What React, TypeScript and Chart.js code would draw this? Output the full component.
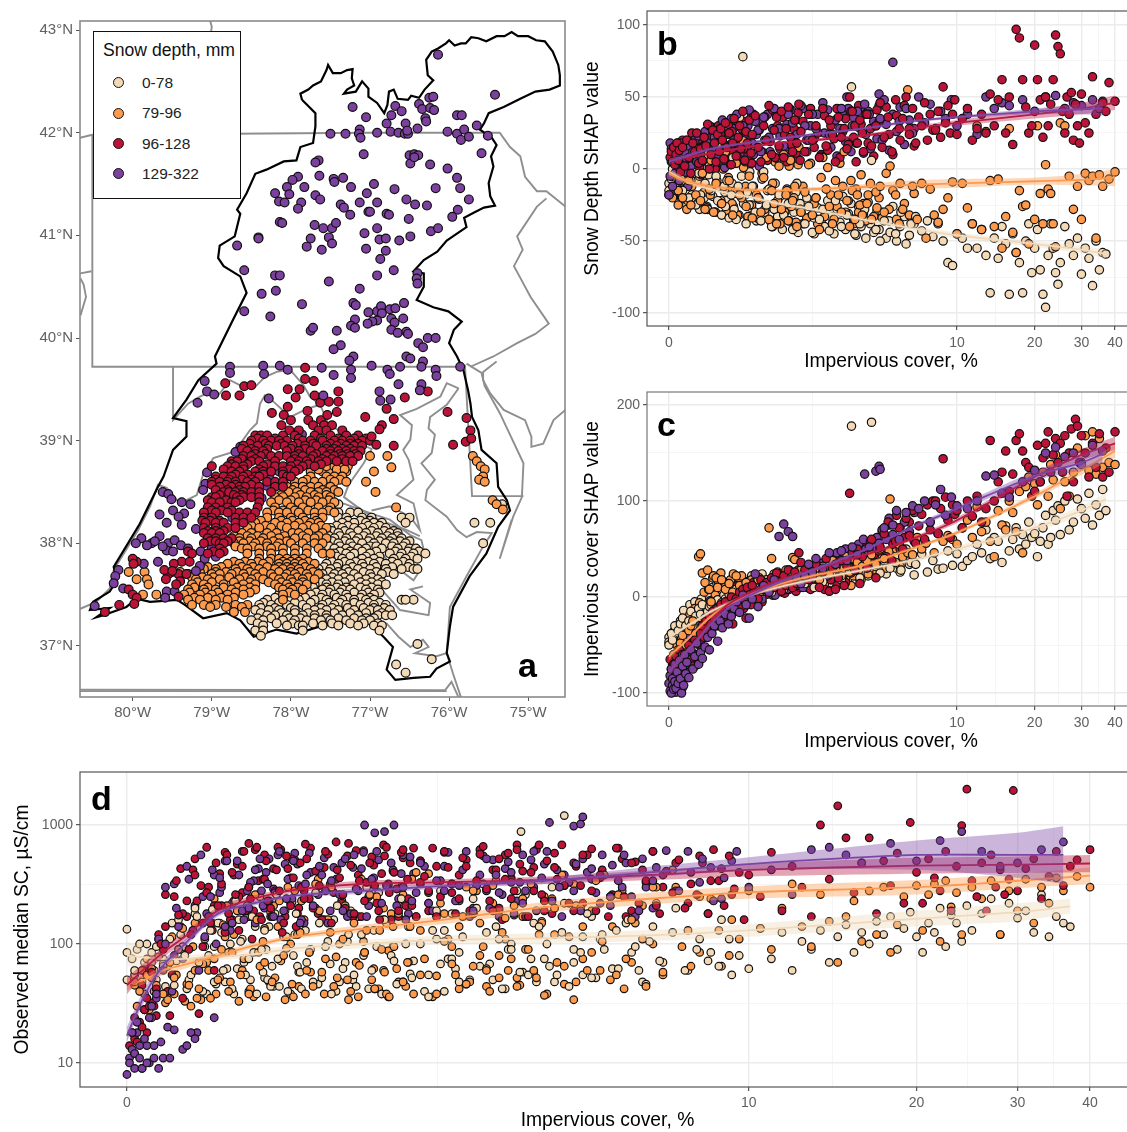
import React, { useEffect, useRef } from "react";
import { Chart, registerables } from "chart.js";
Chart.register(...registerables);

const FONT = '"Liberation Sans", Arial, sans-serif';
const classNames = ["0-78", "79-96", "96-128", "129-322"];
const fillColors = ["#F3D9B6", "#FE9A4C", "#BC1339", "#7C409F"];
const lineColors = ["#F0DABB", "#FD9A50", "#B81B44", "#7D46A5"];

// ---------- map boundaries (lon, lat pairs)
const watershed = [-77.86,42.32,-77.88,42.38,-77.78,42.42,-77.72,42.46,-77.62,42.5,-77.55,42.61,-77.53,42.66,-77.47,42.58,-77.37,42.58,-77.29,42.61,-77.22,42.62,-77.23,42.53,-77.2,42.46,-77.29,42.42,-77.33,42.38,-77.18,42.4,-77.1,42.5,-77.02,42.43,-77.02,42.35,-76.91,42.29,-76.82,42.19,-76.78,42.27,-76.76,42.4,-76.7,42.42,-76.65,42.33,-76.52,42.32,-76.48,42.36,-76.38,42.34,-76.31,42.42,-76.2,42.51,-76.27,42.56,-76.29,42.71,-76.22,42.79,-76.14,42.82,-76.04,42.87,-76,42.9,-75.93,42.85,-75.85,42.87,-75.79,42.87,-75.72,42.93,-75.63,42.92,-75.53,42.89,-75.4,42.94,-75.3,42.94,-75.21,42.98,-75.13,42.94,-75,42.94,-74.9,42.9,-74.79,42.89,-74.69,42.79,-74.62,42.66,-74.6,42.56,-74.6,42.46,-74.73,42.42,-74.91,42.4,-75.1,42.33,-75.31,42.25,-75.5,42.19,-75.56,42.09,-75.61,42.03,-75.46,41.95,-75.4,41.88,-75.47,41.77,-75.44,41.67,-75.5,41.51,-75.48,41.38,-75.42,41.29,-75.56,41.27,-75.69,41.22,-75.81,41.17,-75.78,41.08,-76.03,40.95,-76.15,40.84,-76.32,40.76,-76.45,40.65,-76.32,40.63,-76.32,40.5,-76.41,40.37,-76.2,40.3,-76.01,40.26,-75.84,40.16,-75.94,40.08,-76.0,39.95,-75.9,39.82,-75.82,39.69,-75.76,39.49,-75.73,39.36,-75.71,39.23,-75.63,39.1,-75.59,38.91,-75.4,38.78,-75.38,38.55,-75.27,38.42,-75.23,38.32,-75.38,38.16,-75.53,37.9,-75.74,37.68,-75.95,37.38,-75.99,37.19,-76.03,36.93,-75.99,36.85,-76.16,36.78,-76.24,36.7,-76.45,36.69,-76.68,36.67,-76.79,36.77,-76.71,36.99,-76.83,37.09,-77,37.22,-77.17,37.25,-77.42,37.22,-77.63,37.19,-77.93,37.12,-78.18,37.16,-78.47,37.09,-78.64,37.25,-78.81,37.32,-79.11,37.27,-79.34,37.4,-79.44,37.45,-79.78,37.43,-79.95,37.46,-80.08,37.38,-80.37,37.3,-80.46,37.28,-80.29,37.37,-80.54,37.35,-80.5,37.43,-80.29,37.53,-80.2,37.64,-80.24,37.77,-79.91,38.19,-79.68,38.55,-79.61,38.65,-79.49,38.91,-79.32,39.04,-79.32,39.19,-79.49,39.22,-79.32,39.4,-79.17,39.59,-78.94,39.75,-78.96,39.82,-78.73,40.18,-78.56,40.44,-78.64,40.6,-78.85,40.7,-78.92,40.78,-78.9,40.9,-78.71,40.99,-78.64,41.21,-78.68,41.25,-78.56,41.41,-78.45,41.6,-78.31,41.64,-78.09,41.72,-77.93,41.73,-77.88,41.86,-77.72,41.9,-77.69,42.06,-77.69,42.19,-77.86,42.32];
const grayLines = [
  [-80.67,41.95,-80.51,41.98,-77,42,-75.36,42,-75.23,41.86,-75.1,41.77,-75.04,41.57,-74.89,41.43,-74.77,41.43,-74.53,41.28],
  [-80.51,41.98,-80.51,39.72,-75.8,39.72],
  [-74.77,41.36,-74.89,41.28,-75.14,40.99,-75.07,40.86,-75.18,40.7,-75.11,40.6,-74.97,40.4,-74.74,40.14,-74.91,40.04,-75.14,39.95,-75.44,39.82,-75.73,39.72],
  [-79.02,43.09,-79,43.03,-79.01,42.98],
  [-80.66,40.63,-80.52,40.65],
  [-80.66,40.58,-80.62,40.52,-80.59,40.4,-80.66,40.22],
  [-79.49,39.72,-79.49,39.2,-79.3,39.36,-79.15,39.43,-79,39.48,-78.92,39.44,-78.77,39.59,-78.64,39.54,-78.47,39.51,-78.33,39.62,-78.18,39.67,-78.01,39.69,-77.84,39.54,-77.76,39.43,-77.63,39.35,-77.53,39.17,-77.29,39.04,-77.1,38.96,-76.98,38.92,-77.08,38.78,-77.27,38.57,-77.33,38.45,-77.17,38.36,-76.98,38.26,-76.75,38.19,-76.54,38.13,-76.37,38.07],
  [-80.67,37.36,-80.46,37.43,-80.29,37.56,-80.24,37.74,-79.93,38.13,-79.78,38.36,-79.68,38.57,-79.57,38.54,-79.44,38.42,-79.32,38.42,-79.19,38.47,-79.11,38.67,-78.98,38.83,-78.77,38.88,-78.64,38.97,-78.52,39.1,-78.43,39.17,-78.39,39.36,-78.33,39.44,-78.22,39.38,-78.01,39.23,-77.8,39.31,-77.63,39.35],
  [-75.88,39.51,-76.03,39.56,-76.11,39.43,-76.41,39.31,-76.62,39.25,-76.47,39.15,-76.49,39.01,-76.58,38.91,-76.51,38.81,-76.45,38.62,-76.66,38.47,-76.45,38.39,-76.37,38.13,-76.49,38.26,-76.75,38.36,-76.98,38.32],
  [-75.88,39.51,-76.03,39.35,-76.24,39.23,-76.26,39.12,-76.18,39.06,-76.22,38.88,-76.35,38.78,-76.18,38.62,-76.28,38.52,-76.3,38.42,-76.03,38.26,-75.9,38.13,-75.78,38.06,-75.65,38.11,-75.46,38.1,-75.57,37.97,-75.78,37.68,-75.99,37.38,-76.03,36.93],
  [-75.78,39.75,-75.59,39.66,-75.55,39.53,-75.36,39.27,-75.06,38.78,-75.08,38.45,-75.19,38.26,-75.31,37.97,-75.36,37.85,-75.21,38.23],
  [-74.53,39.3,-74.68,39.2,-74.81,38.97,-74.96,38.94,-74.96,39.04,-75.04,39.2,-75.31,39.3,-75.48,39.46,-75.57,39.59,-75.57,39.67,-75.4,39.77],
  [-75.8,39.74,-75.71,38.46,-75.06,38.46],
  [-80.67,36.56,-76.03,36.56],
  [-80.67,36.575,-76.05,36.57],
  [-77.34,38.39,-76.98,38.29,-76.75,38.23,-76.49,38.08,-76.35,38.03,-76.3,37.87],
  [-76.94,38.02,-76.79,37.84,-76.45,37.64,-76.39,37.71],
  [-76.83,37.53,-76.62,37.35,-76.26,37.3,-76.24,37.42,-76.49,37.55,-76.33,37.58],
  [-77,37.22,-76.79,37.22,-76.64,37.09,-76.49,36.99,-76.33,37.06,-76.26,36.99,-76.43,36.93,-76.16,36.9,-76.03,36.93],
  [-76.03,36.93,-75.95,36.73,-75.85,36.5],
  [-76.05,36.57,-75.97,36.65,-75.88,36.5],
];

// ---------- map stations
const mapPurple = [-76.14,42.76,-75.42,42.37,-77.22,42.25,-77.05,42.15,-76.68,42.26,-76.6,42.21,-76.73,42.17,-76.79,42.09,-76.55,42.09,-76.38,42.28,-76.34,42.23,-76.25,42.34,-76.2,42.35,-76.24,42.24,-76.19,42.22,-76.3,42.14,-76.29,42.11,-76.4,42.04,-75.9,42.17,-75.84,42.17,-75.65,42.07,-77.5,41.99,-77.31,41.99,-77.13,42.03,-77.14,41.99,-77.12,41.95,-76.91,42,-76.74,42.01,-76.64,42,-76.56,41.99,-76.52,41.99,-76.53,42.02,-76.02,42.01,-75.9,41.99,-75.81,42.03,-75.85,41.93,-75.75,41.96,-75.51,41.97,-75.59,41.8,-77.08,41.79,-76.5,41.78,-76.44,41.79,-76.39,41.78,-76.49,41.7,-76.44,41.76,-76.24,41.69,-76.02,41.65,-75.9,41.56,-75.86,41.46,-75.75,41.35,-77.65,41.73,-77.69,41.71,-77.64,41.58,-77.91,41.57,-77.98,41.54,-78.05,41.47,-78.2,41.41,-78.02,41.4,-78.15,41.33,-78.08,41.32,-77.83,41.47,-77.87,41.32,-77.91,41.26,-77.69,41.39,-77.63,41.35,-77.46,41.55,-77.45,41.52,-77.34,41.56,-77.24,41.47,-76.95,41.5,-76.69,41.45,-77.04,41.41,-77.37,41.3,-77.33,41.27,-77.25,41.2,-77.13,41.32,-76.91,41.32,-77.02,41.23,-77,41.23,-76.79,41.21,-76.76,41.2,-76.54,41.35,-76.43,41.3,-76.28,41.29,-76.17,41.46,-75.89,41.25,-75.96,41.18,-76.51,41.16,-78.14,41.13,-78.11,41.12,-77.7,41.1,-77.59,41.07,-77.48,41.07,-77.43,41.12,-76.91,41.07,-77.07,41.02,-76.88,40.96,-76.8,40.97,-76.63,40.95,-76.49,40.99,-76.23,41.04,-76.14,41.07,-78.41,40.98,-78.41,40.97,-77.52,40.98,-77.75,40.97,-77.8,40.89,-77.48,40.92,-77.61,40.86,-78.68,40.9,-77.05,40.87,-76.8,40.85,-76.87,40.77,-78.59,40.66,-76.7,40.66,-76.91,40.61,-78.2,40.61,-78.14,40.61,-76.4,40.63,-76.41,40.58,-76.4,40.53,-77.52,40.55,-77.13,40.48,-78.19,40.46,-78.37,40.43,-77.86,40.33,-77.21,40.34,-77.18,40.32,-78.59,40.26,-78.26,40.21,-77.02,40.25,-76.91,40.26,-76.86,40.31,-76.75,40.28,-76.68,40.29,-76.57,40.34,-76.85,40.24,-76.91,40.17,-76.97,40.16,-77.03,40.14,-77.19,40.18,-77.24,40.12,-77.19,40.1,-76.73,40.19,-76.69,40.15,-76.58,40.19,-76.73,40.08,-76.65,40.05,-76.54,40.06,-76.52,40.04,-77.75,40.07,-77.72,40.1,-77.42,40.07,-76.39,39.95,-76.33,39.91,-76.27,40,-76.17,40,-77.37,39.93,-77.46,39.89,-77.21,39.82,-77.26,39.78,-76.54,39.82,-76.49,39.8,-76.33,39.77,-78.77,39.72,-78.77,39.66,-79.09,39.58,-79.06,39.48,-78.97,39.45,-79.18,39.37,-78.35,39.73,-78.34,39.65,-78.14,39.73,-78.04,39.69,-77.61,39.71,-77.46,39.64,-77.24,39.69,-77.24,39.61,-76.98,39.73,-76.78,39.69,-76.75,39.65,-76.62,39.72,-76.35,39.72,-76.17,39.69,-76.16,39.63,-75.86,39.72,-76.64,39.55,-76.35,39.55,-76.37,39.49,-76.88,39.48,-76.87,39.39,-76.74,39.4,-77.59,39.44,-78.28,39.41];
const mapPurpleLow = [-77.86,39.06,-78.64,38.94,-78.7,38.89,-78.26,38.69,-78.15,38.7,-79.06,38.69,-79.08,38.58,-79.11,38.52,-78.26,38.62,-78.31,38.56,-78.37,38.44,-79.62,38.5,-79.55,38.48,-79.51,38.43,-79.27,38.38,-79.38,38.4,-79.49,38.32,-79.66,38.28,-79.35,38.29,-79.42,38.26,-79.57,38.2,-79.38,38.18,-79.2,38.14,-78.74,38.25,-79.89,38.05,-79.66,38.07,-79.96,38,-79.76,38,-79.55,38,-79.47,38.03,-79.39,37.98,-79.57,37.93,-79.49,37.92,-79.14,37.92,-79,37.95,-78.95,37.87,-79.86,37.8,-79.68,37.82,-79.09,37.85,-79.15,37.78,-79.2,37.73,-80.18,37.74,-80.22,37.68,-80.24,37.61,-80.12,37.56,-80.48,37.39,-79.57,37.53,-79.47,37.53,-79.59,37.47,-79.72,38.02,-79.62,37.97,-79.3,37.95,-79.82,37.98];
const mapRedScattered = [-78.83,39.56,-78.59,39.53,-78.5,39.54,-78.82,39.44,-78.65,39.44,-77.82,39.71,-77.82,39.6,-77.71,39.58,-78.04,39.5,-77.89,39.5,-77.94,39.42,-77.7,39.44,-77.4,39.48,-77.4,39.38,-77.52,39.38,-77.63,39.37,-78.04,39.33,-77.42,39.28,-77.54,39.25,-77.79,39.29,-78.24,39.27,-78.09,39.25,-77.06,39.23,-76.56,39.42,-76.27,39.48,-76.79,39.31,-76.7,39.21,-76.85,39.15,-76.88,39.11,-76.02,39.28,-75.78,39.22,-75.73,39.1,-75.95,38.96,-75.79,38.99,-75.72,39.02,-76.7,38.95,-76.98,39.04,-76.92,38.96,-80,37.85,-79.99,37.8,-79.48,37.8,-79.6,37.74,-79.5,37.73,-79.58,37.65,-79.4,37.63,-79.45,37.6,-80.05,37.55,-80,37.5,-79.95,37.47,-79.42,37.48,-80.17,37.4,-80.35,37.33,-79.98,37.41];
const mapRedRows: [number, number[]][] = [
  [39.2,[-78.0,-77.78,-77.62]],[39.15,[-78.12,-77.72,-77.58,-77.48]],
  [39.1,[-78.02,-77.9,-77.65,-77.55,-77.35]],
  [39.05,[-78.45,-78.38,-78.3,-78.1,-77.95,-77.7,-77.5,-77.3,-77.15]],
  [39.02,[-78.42,-78.2,-77.9,-77.62,-77.4,-77.2,-77.05]],
  [39,[-78.5,-78.35,-78.25,-78.15,-78.05,-77.85,-77.75,-77.6,-77.45,-77.35,-77.25,-77.1,-77]],
  [38.97,[-78.52,-78.32,-78.12,-77.92,-77.72,-77.5,-77.37,-77.25,-77.15]],
  [38.95,[-78.6,-78.42,-78.28,-78.18,-78.08,-77.98,-77.82,-77.68,-77.55,-77.42,-77.3,-77.2,-77.1]],
  [38.92,[-78.62,-78.5,-78.3,-78.0,-77.82,-77.55,-77.45,-77.35,-77.25]],
  [38.9,[-78.55,-78.45,-78.35,-78.05,-77.9,-77.75,-77.6,-77.5,-77.4,-77.3,-77.2,-77.12]],
  [38.87,[-78.45,-78.32,-77.9,-77.68,-77.5,-77.38,-77.28,-77.18]],
  [38.85,[-78.6,-78.5,-78.38,-78.25,-78.15,-78.05,-77.95,-77.85,-77.72,-77.55,-77.45,-77.35,-77.25,-77.15]],
  [38.82,[-78.62,-78.45,-77.95,-77.75,-77.6,-77.48,-77.35]],
  [38.8,[-78.75,-78.68,-78.5,-78.4,-78.2,-78,-77.9,-77.8,-77.65,-77.55,-77.42,-77.3,-77.22]],
  [38.77,[-78.75,-78.55,-78.3,-77.92,-77.78,-77.62]],
  [38.75,[-79,-78.8,-78.7,-78.6,-78.35,-78.2,-78.1,-78,-77.85,-77.7]],
  [38.72,[-78.85,-78.6,-78.4,-78.02,-77.9]],
  [38.7,[-78.75,-78.65,-78.45,-78.35,-78.25,-78.1,-77.95]],
  [38.67,[-78.7,-78.55,-78.35,-78.1]],
  [38.65,[-78.95,-78.85,-78.75,-78.6,-78.45,-78.4,-78.05,-78]],
  [38.62,[-78.95,-78.78,-78.62,-78.5]],
  [38.6,[-79,-78.9,-78.8,-78.7,-78.55,-78.45,-78.3,-78.2,-78.1]],
  [38.57,[-79,-78.82,-78.7,-78.5]],
  [38.55,[-78.9,-78.75,-78.65,-78.58,-78.4,-78.2,-78.1]],
  [38.52,[-78.95,-78.8,-78.65]],
  [38.5,[-78.85,-78.78,-78.7,-78.6,-78.5,-78.4,-78.25]],
  [38.47,[-78.9,-78.72,-78.62]],
  [38.45,[-79,-78.95,-78.68,-78.6,-78.5,-78.4]],
  [38.42,[-79.05,-78.82,-78.65]],
  [38.4,[-79,-78.9,-78.75,-78.7,-78.4]],
  [38.35,[-79.05,-78.95,-78.8,-78.42]],
  [38.32,[-79,-78.88,-78.75]],
  [38.3,[-79.1,-78.95,-78.8,-78.65,-78.55,-78.45]],
  [38.25,[-79.1,-79,-78.7,-78.6,-78.5]],
  [38.22,[-79.12,-79.02,-78.9]],
  [38.2,[-79.08,-78.95,-78.85,-78.7,-78.6]],
  [38.15,[-79.1,-78.95,-78.8,-78.7]],
  [38.12,[-79.05,-78.95,-78.85]],
  [38.1,[-79.1,-79,-78.9]],
  [38.05,[-79.05,-78.95,-78.85,-78.75]],
  [38.02,[-79.02,-78.95,-78.8]],
  [38,[-79.1,-78.9,-78.85]],
  [37.95,[-78.9]],
  [37.92,[-78.98,-78.85,-79.3]],
  [37.9,[-79.25,-79.05,-78.9]],
  [37.82,[-79.95,-79.38,-79.28]],
  [37.7,[-79.55,-79.42,-79.32]],
];
const mapOrangeRows: [number, number[]][] = [
  [38.85,[-77.35,-77.25,-77,-76.78]],[38.8,[-77.25]],[38.74,[-76.73]],[38.7,[-77.75,-77.6,-77.5,-77.4,-77.3,-76.95]],
  [38.75,[-77.7,-77.55,-77.45,-77.35,-77.28]],
  [38.72,[-77.65,-77.42,-77.32]],
  [38.65,[-77.75,-77.55,-77.45,-77.35]],
  [38.62,[-77.8,-77.5,-77.38]],
  [38.6,[-77.95,-77.85,-77.7,-77.6,-77.45,-77.3,-77.05]],
  [38.55,[-78.05,-77.95,-77.85,-77.75,-77.65,-77.5]],
  [38.52,[-77.98,-77.82,-77.6,-77.45]],
  [38.5,[-78.03,-77.92,-77.75,-77.65,-77.55,-77.4,-76.93]],
  [38.47,[-78.12,-77.88,-77.7,-77.55]],
  [38.45,[-78.2,-78.1,-77.95,-77.8,-77.65,-77.5]],
  [38.42,[-78.15,-78,-77.82,-77.68,-77.52]],
  [38.4,[-78.25,-78.05,-77.9,-77.75,-77.6,-77.45]],
  [38.35,[-78.2,-78,-77.85,-77.65,-77.5,-76.67]],
  [38.32,[-78.22,-78.1,-77.95,-77.78,-77.52]],
  [38.3,[-78.3,-78.15,-78.05,-77.9,-77.7,-77.6,-77.45]],
  [38.25,[-78.3,-78.15,-78,-77.85,-77.7,-77.6]],
  [38.22,[-78.38,-78.12,-77.98,-77.82,-77.68]],
  [38.2,[-78.45,-78.2,-78.05,-77.9,-77.75,-77.65,-78.95]],
  [38.17,[-78.5,-78.32,-78.12,-77.95,-77.78,-77.62]],
  [38.15,[-78.55,-78.4,-78.25,-78.05,-77.85,-77.7,-77.55]],
  [38.1,[-78.62,-78.5,-78.3,-78.18,-77.98,-77.9,-77.78,-77.6]],
  [38.07,[-78.72,-78.55,-78.42,-78.25,-78.08,-77.85,-77.65]],
  [38.05,[-78.65,-78.5,-78.35,-78.15,-77.95,-77.8,-77.7,-77.55]],
  [38.02,[-78.65,-78.52,-78.38,-78.22,-78.05]],
  [38,[-78.72,-78.6,-78.45,-78.3,-78.15,-78,-77.85,-77.7,-77.6]],
  [37.97,[-78.7,-78.48,-78.3,-78.18]],
  [37.95,[-78.62,-78.55,-78.4,-78.25,-78.1,-77.95,-77.8,-77.65]],
  [37.9,[-78.55,-78.4,-78.25,-78.1,-77.95,-77.8,-77.6,-77.5]],
  [37.85,[-78.4,-78.25,-78.15,-78.05,-77.95,-77.85]],
  [37.82,[-78.72,-78.58,-78.42,-78.28,-78.1,-78,-77.9,-77.78]],
  [37.8,[-78.8,-78.65,-78.5,-78.35,-78.15,-78.05,-77.95,-77.85,-77.7]],
  [37.77,[-79.05,-78.88,-78.62,-78.48,-78.3,-78.15,-78.05,-77.95,-77.82]],
  [37.75,[-79.1,-78.95,-78.7,-78.55,-78.4,-78.2,-78.1,-78,-77.9,-77.75]],
  [37.72,[-80.05,-79.85,-79.5,-79.4,-79.15,-78.95,-78.82,-78.68,-78.52,-78.35,-78.15,-78,-77.88,-77.72]],
  [37.7,[-79.3,-79,-78.9,-78.75,-78.6,-78.45,-78.25,-78.05,-77.95,-77.8,-77.65]],
  [37.67,[-79.25,-79.12,-78.98,-78.78,-78.58,-78.42,-78.22,-78.08,-77.92,-77.78]],
  [37.65,[-79.95,-79.82,-79.2,-79.05,-78.9,-78.65,-78.5,-78.35,-78.15,-78,-77.85,-77.7]],
  [37.62,[-79.18,-79,-78.72,-78.52,-78.28,-78.12,-77.98,-77.85]],
  [37.6,[-79.8,-79.25,-79.1,-78.85,-78.6,-78.45,-78.2,-78.05,-77.9,-77.8]],
  [37.57,[-79.22,-79.05,-78.85,-78.68,-78.52,-78.15,-78.02,-77.92]],
  [37.55,[-79.3,-79.1,-78.95,-78.75,-78.6,-78.45,-78.1,-77.98,-77.85]],
  [37.52,[-79.28,-79.08,-78.92,-78.7,-78.52,-78.02]],
  [37.5,[-79.87,-79.7,-79.35,-79.15,-79,-78.8,-78.6,-78.1,-77.95]],
  [37.47,[-79.22,-79.05,-78.88,-78.72]],
  [37.45,[-79.3,-79.15,-78.95,-78.8,-78.1]],
  [37.4,[-79.25,-79.1,-78.95,-78.7,-78.55]],
  [37.38,[-79.02,-78.82,-78.62]],
  [37.33,[-78.72,-78.58]],
  [38.85,[-75.7]],[38.8,[-75.65]],[38.75,[-75.6]],[38.72,[-75.55]],[38.65,[-75.57]],[38.62,[-75.62]],[38.6,[-75.55]],[38.42,[-75.45]],[38.38,[-75.4]],[38.33,[-75.32]],
];
const mapBeigeRows: [number, number[]][] = [
  [38.38,[-77.4,-75.33]],[38.3,[-77.4,-77.25,-77.15]],
  [38.25,[-77.4,-77.3,-77.1,-76.98,-76.6,-76.5]],
  [38.22,[-77.28,-77.12,-77]],
  [38.2,[-77.35,-77.2,-77.05,-76.95,-76.85,-76.55,-75.68,-75.48]],
  [38.17,[-77.42,-77.28,-77.02,-76.88]],
  [38.15,[-77.5,-77.35,-77.2,-77.1,-76.95,-76.8]],
  [38.12,[-77.48,-77.32,-77.15,-76.98,-76.82,-76.7]],
  [38.1,[-77.55,-77.4,-77.25,-77.05,-76.9,-76.75,-76.65]],
  [38.07,[-77.52,-77.38,-77.22,-77.08,-76.92,-76.78,-76.65]],
  [38.05,[-77.6,-77.45,-77.3,-77.15,-77,-76.85,-76.72,-76.6]],
  [38.02,[-77.48,-77.32,-77.18,-77.02,-76.88,-76.75,-76.62,-76.5]],
  [38,[-77.55,-77.4,-77.25,-77.1,-76.95,-76.8,-76.7,-76.55,-75.57]],
  [37.97,[-77.52,-77.38,-77.22,-77,-76.92,-76.72,-76.58]],
  [37.95,[-77.45,-77.3,-77.15,-77.05,-76.85,-76.65,-76.5,-76.42]],
  [37.92,[-77.38,-77.25,-77.1,-76.92,-76.68,-76.52,-76.38]],
  [37.9,[-77.45,-77.3,-77.2,-77,-76.75,-76.6,-76.45,-76.3]],
  [37.87,[-77.42,-77.25,-77.05,-76.88,-76.62,-76.48]],
  [37.85,[-77.5,-77.35,-77.1,-76.95,-76.7,-76.55,-76.4]],
  [37.82,[-77.48,-77.32,-77.18,-77.02,-76.88,-76.72,-76.58]],
  [37.8,[-77.55,-77.4,-77.25,-77.1,-76.95,-76.8,-76.65,-76.5]],
  [37.77,[-77.58,-77.42,-77.22,-77.08,-76.92,-76.72,-76.52]],
  [37.75,[-77.65,-77.5,-77.3,-77.15,-77,-76.8,-76.6,-76.45,-76.4]],
  [37.72,[-77.68,-77.52,-77.4,-77.27,-77.08,-76.92,-76.78]],
  [37.7,[-77.6,-77.45,-77.35,-77.2,-77,-76.85,-76.7]],
  [37.67,[-77.62,-77.48,-77.32,-77.15,-76.98]],
  [37.65,[-77.7,-77.55,-77.4,-77.25,-77.05,-76.9]],
  [37.62,[-77.78,-77.62,-77.48,-77.32,-77.12,-76.98,-76.85]],
  [37.6,[-77.7,-77.55,-77.4,-77.2,-77.05,-76.9,-76.8]],
  [37.57,[-77.72,-77.55,-77.42,-77.3,-77.12,-76.98]],
  [37.55,[-77.8,-77.6,-77.5,-77.35,-77.25,-77.05,-76.9]],
  [37.52,[-77.88,-77.68,-77.52,-77.38,-77.2,-77.02,-76.88]],
  [37.5,[-78.15,-77.95,-77.75,-77.6,-77.45,-77.3,-77.1,-76.95]],
  [37.47,[-78.2,-78,-77.82,-77.62,-77.42,-77.28,-77.12,-77]],
  [37.45,[-78.3,-78.1,-77.9,-77.7,-77.55,-77.35,-77.2,-77.05,-76.95,-76.6,-76.45,-76.55]],
  [37.42,[-78.35,-78.15,-77.95,-77.75,-77.52,-77.38,-77.2,-77.02,-76.88]],
  [37.4,[-78.4,-78.25,-78.05,-77.85,-77.6,-77.45,-77.3,-77.12,-76.95,-76.8]],
  [37.37,[-78.38,-78.2,-78,-77.8,-77.62,-77.48,-77.28,-77.08,-76.95,-76.82]],
  [37.35,[-78.45,-78.28,-78.15,-77.95,-77.7,-77.55,-77.4,-77.2,-77,-76.9,-76.75]],
  [37.32,[-78.38,-78.12,-77.95,-77.78,-77.62,-77.45,-77.25,-77.05,-76.85]],
  [37.3,[-78.3,-78.2,-78.05,-77.85,-77.7,-77.55,-77.35,-77.15,-76.9,-76.8,-76.72]],
  [37.27,[-78.42,-78.25,-78.02,-77.88,-77.7,-77.55,-77.4,-77.2,-77.05,-76.95]],
  [37.25,[-78.5,-78.35,-78.1,-77.95,-77.8,-77.62,-77.5,-77.3,-77.1,-77]],
  [37.22,[-78.42,-78.18,-77.98,-77.72,-77.48,-77.25,-77.08,-76.9]],
  [37.2,[-78.35,-78.05,-77.9,-77.85,-77.6,-77.4,-77.15,-76.95,-76.85]],
  [37.15,[-78.45,-78.35,-77.85,-76.88]],[37.1,[-78.38]],
  [37.02,[-76.4]],[36.87,[-76.22]],[36.82,[-76.67]],[36.74,[-76.55]],
];

// ---------- site values, class 0-78
const imperviousBeige = [0,0,0,.02,.03,.05,.08,.1,.12,.15, .18,.2,.22,.25,.28,.3,.32,.35,.38,.4, .42,.45,.48,.5,.52,.55,.58,.6,.62,.65, .68,.7,.72,.75,.78,.8,.85,.9,.92,.95, 1,1.05,1.1,1.15,1.2,1.25,1.3,1.35,1.4,1.5, 1.6,1.7,1.8,1.9,2,2.1,2.2,2.3,2.35,2.4, 2.5,2.6,2.8,3,3.2,3.4,3.57,3.7,3.9,4.1, 4.4,4.6,4.8,5,5.3,5.6,5.9,6.2,6.5,6.8, 7.2,7.6,8,8.4,8.8,9.2,9.6,10,10.5,11, 11.5,12,12.5,13,13.5,14,14.5,15,15.5,16, 16.5,17,17.5,18,18.5,19,19.5,20,20.5,21, 21.5,22,22.5,23,23.5,24,24.5,25,26,27, 28,29,30,31,32,33,34,35,36,37];
const snowShapBeige = [-10,-15,-18,-7,0,-12,3,-5,-15,5, -20,-8,10,-25,-3,-18,15,-10,-28,2, -15,-30,-5,-22,12,-32,-12,-26,-8,-34, -18,8,-28,-35,-12,36,78,-38,-16,-25, -12,-30,-20,-36,-2,-25,-14,-40,-28,-18, -32,-24,-42,-10,-30,-38,-26,-44,-34,-20, -35,-28,-43,-22,-40,-32,57,-45,-38,-28, 6,-42,-50,-36,-44,-45,-30,-52,-38,-33, -43,-36,-47,-38,-50,-65,-67,-45,-48,-55, -38,-55,-42,-60,-86,-48,-62,-40,-52,-87, -45,-58,-65,-86,-50,-38,-72,-55,-42,-70, -87,-96,-60,-38,-55,-72,-80,-65,-40,-52, -60,-48,-73,-55,-62,-81,-50,-70,-58,-59];
const imperviousShapBeige = [-42,-47,-50,-38,-45,-30,-35,-28,-22,-30, -25,-15,-30,-20,-12,-18,-8,-22,-15,-10, -8,-5,-12,-3,-10,-6,2,-2,-8,3, -2,5,0,8,-4,3,10,1,12,6, 4,12,8,15,6,18,10,5,14,20, 8,16,12,18,22,14,26,20,10,28, 22,16,24,30,18,26,178,28,20,35, 182,32,25,38,30,42,28,50,36,34, 45,26,38,29,30,48,33,45,32,38, 42,55,46,70,40,62,58,36,74,48, 60,72,50,65,55,78,62,66,42,58, 72,85,55,62,90,80,95,65,100,70, 78,102,92,82,108,75,96,85,112,90];
const observedScBeige = [133,50,85,75,60,100,55,70,95,65, 110,45,160,80,55,200,70,95,130,48, 150,60,85,42,230,105,55,75,170,38, 90,130,50,65,260,44,115,80,180,58, 70,48,150,95,38,210,62,120,55,85, 42,160,72,300,52,100,36,190,68,130, 75,48,180,62,110,90,880,55,140,65, 1200,70,115,52,90,130,160,60,105,72, 125,60,90,72,65,110,80,62,135,75, 125,60,105,90,130,70,115,145,85,125, 100,155,120,170,90,135,185,115,85,150, 125,200,95,175,150,105,210,130,180,240, 120,220,165,190,125,260,115,170,150,140];

// class 79-96
const imperviousOrange = [.03,.05,.08,.1,.12,.15,.18,.2,.22,.25, .28,.3,.32,.35,.38,.4,.42,.45,.48,.5, .55,.6,.65,.7,.75,.8,.85,.9,.95,1, 1.05,1.1,1.15,1.2,1.25,1.3,1.35,1.4,1.45,1.5, 1.55,1.6,1.65,1.7,1.75,1.8,1.85,1.9,1.95,2, 2.1,2.2,2.3,2.4,2.5,2.6,2.7,2.8,2.9,3, 3.1,3.2,3.3,3.4,3.5,3.6,3.7,3.8,3.9,4, 4.2,4.4,4.6,4.8,5,5.3,5.6,5.8,6,6.3, 6.6,6.9,7.2,7.5,7.8,8.1,8.4,8.8,9.2,9.6, 10,10.5,11,11.5,12,12.5,13,13.5,14,14.5, 15,15.5,16,16.5,17,17.5,18,18.5,19,20, 20.5,21,21.5,22,22.5,23,23.5,24,25,26, 27,28,29,30,31,32,33,34,35,36,38,40];
const snowShapOrange = [-5,5,-15,8,-20,12,-8,-25,3,-18, 14,-22,-3,-28,10,-14,6,-30,-10,16, -24,12,-8,-32,4,-18,20,-26,-5,-34, 14,-20,-30,-6,8,-35,-15,-24,-38,2, -28,10,-18,-36,6,-22,-12,-40,15,-30, -16,3,-32,-20,-42,8,-14,-26,-38,-8, -18,-30,12,-22,-40,-15,-35,-18,-25,-32, -24,-35,-16,-12,-30,2,-18,-38,-28,55, -12,-35,-10,-48,-14,-32,-37,-28,-20,-9, -45,-10,-27,-38,30,-42,26,-8,-40,-7, -55,-33,28,-44,-58,-15,-26,-25,-52,-35, 30,-17,-38,3,-14,-17,-38,-54,32,30, -5,-28,-12,-35,-3,-8,-5,-48,-4,-12,-7,-2];
const imperviousShapOrange = [-70,-62,-55,-48,-40,-50,-35,-30,-25,-38, 42,45,25,15,28,8,-5,22,20,10, 18,8,14,5,22,12,4,15,8,2, 10,18,6,14,9,72,40,24,16,11, 21,14,28,18,25,41,39,16,22,28, 22,30,26,35,18,32,28,24,38,30, 35,22,30,42,26,40,28,36,45,32, 38,44,34,50,40,102,36,55,42,46, 44,62,50,56,78,46,66,58,64,60, 55,72,80,62,94,68,78,58,42,90, 75,70,100,88,68,110,46,115,125,118, 96,120,130,148,105,138,122,148,92,120, 105,130,155,140,168,132,172,128,165,135,140,138];
const observedScOrange = [48,40,55,62,45,38,70,52,90,33, 30,60,42,110,35,75,50,145,40,85, 55,38,160,70,48,230,92,36,125,60, 44,190,75,300,52,110,34,150,66,85, 260,42,130,58,36,95,180,48,70,350, 55,220,38,105,68,140,46,280,80,60, 310,52,165,75,44,240,90,60,120,37, 200,65,34,140,85,380,55,42,160,110, 300,58,420,95,65,250,180,130,80,110, 280,135,90,200,320,140,95,260,155,70, 170,230,105,280,120,300,85,145,250,310, 130,260,320,105,340,205,270,120,300,240, 340,120,280,190,350,150,300,220,360,280,370,300];

// class 96-128
const imperviousRed = [.01,.02,.03,.04,.05,.06,.07,.08,.09,.1, .12,.14,.16,.18,.2,.22,.24,.26,.28,.3, .32,.34,.36,.38,.4,.42,.44,.46,.48,.5, .52,.54,.56,.58,.6,.62,.65,.68,.7,.72, .75,.78,.8,.82,.85,.88,.9,.92,.95,.98, 1,1.05,1.1,1.15,1.2,1.25,1.3,1.35,1.4,1.45, 1.5,1.55,1.6,1.65,1.7,1.75,1.8,1.85,1.9,1.95, 2,2.1,2.2,2.3,2.4,2.5,2.6,2.7,2.8,2.9, 3,3.1,3.2,3.3,3.4,3.5,3.6,3.7,3.8,3.9, 4,4.2,4.4,4.6,4.8,5,5.2,5.4,5.6,5.8, 6,6.2,6.4,6.6,6.8,7,7.2,7.4,7.6,7.8, 8,8.2,8.4,8.6,8.8,9,9.2,9.4,9.6,9.8, 10,10.5,11,11.5,12,12.5,13,13.5,14,14.5, 15,15.5,16,16.5,17,17.5,18,18.5,19,19.5, 20,20.5,21,21.5,22,22.5,23,23.5,24,24.5, 25,25.5,26,26.5,27,27.5,28,28.5,29,29.5, 30,31,32,33,34,35,36,37,38,40];
const snowShapRed = [8,12,5,15,3,10,18,6,13,-2, 15,2,20,8,-3,18,12,25,4,14, 6,22,16,31,0,10,27,18,5,24, 12,28,20,7,32,15,25,3,18,35, 9,22,30,14,40,6,26,18,34,11, 24,37,15,5,30,20,44,10,27,36, 16,40,8,28,43,22,12,34,18,45, 26,12,38,20,30,8,42,16,34,24, 5,36,22,28,14,50,40,30,18,34, 25,38,16,30,46,22,36,12,48,28, 35,50,24,42,18,36,30,46,20,38, 27,27,40,22,57,32,44,25,38,48, 24,35,42,20,28,38,25,52,30,48, 62,25,50,17,97,91,62,43,25,30, 86,62,48,22,50,30,45,62,93,85, 80,40,25,50,38,53,20,45,30,18, 52,32,25,64,38,42,46,40,60,47];
const imperviousShapRed = [-65,-75,-85,-70,-80,-62,-90,-72,-55,-78, -60,-82,-70,-50,-65,-72,-45,-60,-68,-38, -30,-42,-25,-35,-20,-28,-15,-22,-30,-12, -18,-8,-25,-14,-5,-20,-10,0,-28,-6, -2,-15,5,-10,8,-4,-22,10,2,-8, 12,4,-2,18,8,15,6,20,10,25, 16,6,22,12,28,18,10,26,14,46, 36,28,18,22,34,10,26,40,6,30, 8,20,38,12,32,108,46,28,50,14, 42,30,60,20,52,66,78,38,58,72, 50,82,64,90,56,74,86,60,96,70, 100,100,66,92,144,104,80,62,96,86, 90,72,100,84,105,78,92,163,100,120, 130,152,110,128,163,170,152,140,135,105, 110,158,120,145,160,172,130,148,165,140, 160,130,168,105,150,175,120,185,178,140, 168,150,125,160,135,170,125,155,130,172];
const observedScRed = [14,18,24,15,22,20,28,35,30,58, 42,100,140,25,80,175,35,230,120,380, 26,95,270,150,60,210,320,125,180,400, 260,130,450,190,300,110,650,160,350,230, 170,420,280,125,550,210,360,140,480,240, 520,200,310,600,150,420,260,700,180,340, 230,480,310,160,550,270,400,190,620,350, 210,500,280,170,600,320,240,450,180,570, 290,190,520,350,240,620,410,170,280,680, 230,440,310,190,560,280,380,170,640,250, 480,220,340,600,180,410,270,510,200,320, 260,480,180,620,340,210,550,290,400,160, 380,250,590,190,450,300,170,1000,350,1450, 780,270,480,780,180,500,310,580,220,1050, 400,220,520,360,280,600,190,450,990,2000, 340,250,480,190,560,300,420,260,350,1950, 280,430,520,240,370,600,310,450,510,620];

// class 129-322
const imperviousPurple = [0,.01,.01,.02,.02,.03,.03,.04,.05,.05, .06,.07,.08,.09,.1,.11,.12,.13,.14,.15, .16,.18,.2,.22,.24,.26,.28,.3,.32,.35, .38,.4,.43,.46,.5,.53,.56,.6,.64,.68, .72,.76,.8,.85,.9,.95,1,1.05,1.1,1.15, 1.2,1.3,1.4,1.5,1.6,1.7,1.8,1.9,2,2.1, 2.2,2.3,2.4,2.6,2.8,3,3.2,3.4,3.6,3.8, 4.1,4.3,4.6,4.75,4.8,5,5.45,5.8,6.2,6.6, 7,7.4,7.8,8.2,8.6,9,9.5,10,11,12, 13,14,15,16,18,20,22,24,26,28,30,33,36];
const snowShapPurple = [-18,18,-5,14,5,-12,10,8,-3,16, 12,2,6,-8,18,9,14,3,-2,11, 7,16,2,12,20,5,23,10,15,26, 18,30,12,22,8,28,34,16,24,35, 20,38,14,30,25,41,18,33,27,12, 36,22,42,28,16,38,32,24,44,30, 20,38,28,46,24,34,42,50,30,40, 45,38,30,52,35,48,74,33,42,25, 50,32,45,28,40,35,48,30,38,24, 50,42,46,44,48,40,50,51,42,46,44,48,47];
const imperviousShapPurple = [-90,-98,-82,-100,-75,-92,-85,-96,-70,-88, -95,-78,-90,-66,-85,-100,-72,-92,-60,-80, -68,-84,-55,-75,-62,-48,-70,-58,-64,-52, -42,-55,-38,-30,-46,-25,-32,-18,-28,-20, -12,-5,-16,2,-8,-22,-2,24,-10,8, 12,5,18,63,76,68,63,20,14,22, 34,26,40,30,46,34,48,38,52,44, 128,52,131,136,133,72,75,60,88,95, 92,100,78,96,112,85,104,95,92,100, 126,127,108,104,120,132,150,156,146,150,138,158,152];
const observedScPurple = [8,11,10,13,18,9,12,22,14,11, 9,16,10,24,30,11,38,9,15,60, 100,11,19,140,13,14,18,16,60,115, 250,24,360,140,150,500,190,200,420,280, 320,170,600,240,500,150,380,210,450,280, 340,190,560,1000,860,880,1000,300,230,480, 220,340,280,310,190,520,270,400,220,600, 1050,300,980,1020,1170,430,250,560,190,340, 610,280,400,520,230,360,600,300,420,260, 620,650,560,480,700,500,740,880,600,450,480,620,720];

// ---------- further sites in the crowded low-cover range; each class reads against this cover list
const imperviousCrowded = [.11,.13,.16,.19,.21,.24,.27,.29,.31,.34, .37,.39,.41,.44,.47,.49,.51,.54,.57,.59, .61,.64,.67,.69,.71,.74,.77,.79,.83,.86, .89,.93,.96,.99,1.02,1.07,1.12,1.17,1.22,1.27, 1.32,1.37,1.42,1.47,1.52,1.57,1.62,1.67,1.72,1.77, 1.83,1.88,1.93,1.98,2.05,2.15,2.25,2.35,2.45,2.55, 2.65,2.75,2.85,2.95,3.05,3.15,3.25,3.35,3.45,3.55, 3.65,3.75,3.85,3.95,4.05,4.15,4.25,4.35,4.5,4.65, 4.75,4.9,5.1,5.25,5.45,5.65,5.85,6.1,6.4,6.7, .03,.04,.06,.07,.08,.09,.1,.12,.15,.17];
const snowCrowdedRed = [5,18,-3,12,25,8,20,1,15,10, 22,4,28,13,0,18,30,9,24,6, 16,31,3,26,11,35,20,7,28,14, 33,9,22,4,38,15,27,12,36,6, 19,41,8,30,14,36,24,5,42,17, 28,11,39,6,33,20,42,15,25,9, 37,13,30,21,42,8,26,35,17,40, 22,5,44,31,12,38,18,28,9,41, 33,15,43,24,10,37,20,44,28,16, 8,15,-2,12,18,3,10,20,5,14];
const snowCrowdedPurple = [12,2,20,-2,16,7,23,10,-4,18, 6,25,14,29,3,20,9,27,16,1, 24,8,33,13,28,4,19,34,11,26, 5,30,16,37,10,24,2,33,20,38, 12,28,40,7,23,36,15,31,9,41, 18,34,7,26,42,12,30,21,38,10, 25,41,15,33,9,28,38,19,42,12, 36,18,29,43,11,24,40,14,33,21, 44,20,31,13,38,26,43,17,34,28, -15,9,16,-10,4,13,-6,17,7,-12];
const snowCrowdedOrange = [-20,8,-28,3,-12,14,-24,-5,10,-16, -27,6,-18,12,-30,-8,15,-22,0,-14, -30,-6,17,-24,4,-15,-32,10,-20,1, -12,-33,6,-25,12,-18,-35,-3,-28,8, -36,-10,5,-22,-38,9,-30,-15,2,-26, -20,-37,3,-28,-12,-34,4,-24,-38,-6, -33,1,-18,-35,-26,4,-12,-30,-22,-8, -38,-14,-30,-4,-24,-36,-18,-10,-33,-27, -20,-34,-3,-28,-15,-35,-10,-24,-32,-17, -20,6,-12,9,-25,2,-16,-8,7,-22];
const snowCrowdedBeige = [-14,10,-25,3,-18,12,-8,-28,5,-20, -26,-4,8,-19,-30,2,-12,-24,10,-16, -22,4,-30,-10,-26,6,-17,-32,-5,-24, -18,-34,-2,-27,-12,-36,-21,-7,-30,-15, -26,-40,-10,-33,-19,-42,-28,-14,-36,-22, -30,-16,-44,-24,-38,-20,-33,-45,-27,-36, -40,-22,-33,-45,-28,-37,-19,-42,-31,-24, -35,-46,-26,-40,-31,-48,-23,-38,-44,-29, -42,-30,-48,-36,-26,-50,-40,-33,-46,-38, -18,4,-10,12,-15,-2,8,-20,1,-12];
const impCrowdedRed = [-52,-66,-38,-58,-44,-72,-35,-50,-30,-42, -28,-16,-4,-24,-12,-30,-8,-20,0,-14, -18,2,-10,8,-15,-2,12,-6,4,-12, 5,-8,12,-3,15,0,8,-5,14,3, 10,2,18,6,24,12,4,20,8,16, 14,6,22,10,28,18,8,25,12,20, 8,28,18,35,12,42,22,15,32,25, 38,30,48,34,55,40,32,58,44,36, 48,68,42,75,55,85,50,62,78,58, -92,-70,-84,-62,-95,-76,-66,-88,-72,-60];
const impCrowdedPurple = [-68,-52,-62,-40,-58,-35,-48,-30,-44,-34, -26,-18,-8,-22,-28,-4,-14,-20,-2,-10, -12,-18,0,-8,6,-14,-4,10,-6,2, -6,4,-3,10,0,14,6,-2,12,8, 6,14,2,20,10,16,24,8,18,12, 22,12,28,18,10,25,15,32,20,35, 30,22,42,35,46,28,40,50,32,44, 48,38,55,42,60,50,44,58,52,62, 56,70,60,82,65,90,72,78,68,88, -96,-80,-99,-72,-90,-86,-64,-94,-76,-70];
const impCrowdedOrange = [-44,-30,-48,-18,-36,-12,-28,-6,-22,5, -14,8,-6,20,2,-10,14,25,-2,10, 6,-8,18,2,24,10,-4,15,22,0, 4,14,8,18,2,12,20,6,16,10, 8,16,6,20,12,5,22,14,18,10, 18,12,24,15,28,10,22,16,26,14, 14,26,18,30,16,24,32,20,28,12, 22,36,28,18,32,40,24,35,30,26, 34,44,30,48,38,50,32,46,42,36, -82,-60,-74,-50,-68,-78,-55,-64,-46,-58];
const impCrowdedBeige = [-28,-14,-24,-8,-20,-5,-16,-10,-2,-12, -8,4,-12,10,-3,14,2,-6,8,12, 6,-4,15,2,20,9,-2,18,12,5, 8,16,10,22,6,18,12,24,14,9, 12,20,14,26,10,18,24,16,28,11, 16,24,13,28,20,15,30,18,25,21, 18,28,15,33,22,26,14,35,20,30, 24,36,20,30,40,26,22,38,28,33, 28,42,24,36,45,30,26,40,34,23, -46,-36,-42,-30,-47,-38,-25,-34,-44,-28];
const scCrowdedRed = [30,120,260,55,340,180,90,420,230,150, 300,130,480,210,560,160,380,250,600,190, 240,620,170,350,500,200,280,650,150,430, 520,180,300,690,240,410,160,570,270,360, 200,460,610,170,330,540,220,390,650,160, 290,590,210,480,170,370,640,250,440,180, 530,190,340,660,230,420,160,580,280,470, 170,400,620,260,500,180,350,680,220,450, 310,560,190,420,250,640,170,490,330,210, 16,22,45,28,18,60,32,25,90,40];
const scCrowdedPurple = [14,110,300,40,200,75,350,130,18,250, 170,420,100,300,500,130,230,380,160,280, 330,150,520,210,400,170,270,560,190,350, 240,470,160,320,580,200,380,150,440,260, 520,180,290,430,170,350,600,220,310,480, 210,390,160,540,270,450,190,340,590,230, 420,170,310,550,200,380,260,490,180,330, 280,510,190,360,600,230,420,170,330,470, 190,400,270,560,210,340,480,170,300,440, 12,18,9,28,14,10,24,35,11,20];
const scCrowdedOrange = [40,78,32,115,55,135,45,95,35,68, 60,150,38,90,210,48,120,33,75,170, 42,260,65,105,36,185,52,140,80,300, 46,120,230,38,85,320,58,160,44,100, 210,40,70,350,130,50,250,90,38,180, 62,300,44,140,400,75,36,220,110,55, 170,48,280,95,40,340,125,60,210,45, 90,320,52,150,38,240,70,380,115,48, 200,60,340,105,50,260,75,150,44,300, 45,30,60,38,75,28,52,42,68,34];
const scCrowdedBeige = [60,110,44,150,72,95,50,130,170,40, 80,195,46,125,62,100,38,160,70,210, 50,140,250,58,90,44,180,75,115,40, 225,65,42,130,85,270,52,105,160,48, 70,190,44,120,300,60,95,38,150,80, 46,240,100,56,170,40,130,280,75,62, 115,50,200,320,68,140,42,90,175,58, 260,75,48,155,100,300,55,125,44,210, 85,180,52,120,250,62,150,95,46,220, 55,90,48,70,100,60,85,50,75,65];

// ---------- more sites visible only in the observed-SC panel
const imperviousScOnly = [.2,.23,.26,.3,.33,.36,.4,.43,.46,.5, .53,.56,.6,.63,.66,.7,.73,.76,.81,.84, .88,.91,.94,.98,1.03,1.09,1.14,1.19,1.24,1.29, 1.34,1.39,1.44,1.49,1.54,1.59,1.64,1.69,1.74,1.79, 1.85,1.9,1.96,2.02,2.1,2.2,2.3,2.4,2.5,2.6, 2.7,2.8,2.9,3,3.1,3.2,3.3,3.4,3.5,3.6, 3.8,4,4.2,4.4,4.6,4.8,5,5.2,5.5,5.75, 6,6.3,6.6,6.9,7.3,7.7,8.1,8.5,8.9,9.3];
const scOnlyRed = [250,430,170,520,310,650,210,390,590,160, 470,270,700,190,340,560,230,430,620,170, 360,510,200,280,640,180,440,320,720,220, 550,170,380,610,250,460,190,680,300,410, 170,530,240,640,330,190,450,590,270,380, 510,180,620,300,420,200,560,350,680,240, 440,190,580,310,480,220,630,360,260,520, 190,420,600,300,480,220,550,340,430,260];
const scOnlyPurple = [320,140,450,210,560,180,380,270,500,150, 240,600,170,340,430,200,520,290,160,470, 220,580,310,150,400,260,530,190,350,480, 170,440,280,590,210,360,510,160,320,420, 240,560,180,390,500,270,170,450,320,230, 600,200,380,280,510,170,430,330,230,560, 300,470,200,380,280,520,350,220,460,300, 250,520,200,380,280,600,330,440,240,500];
const scOnlyOrange = [38,90,46,150,34,70,240,52,115,40, 190,60,300,36,85,135,48,210,72,34, 100,280,44,160,58,350,38,125,78,230, 50,170,36,105,320,62,42,200,88,140, 48,260,70,38,130,390,54,180,95,42, 300,65,150,44,220,80,110,360,52,170, 58,250,120,46,320,75,190,60,140,280, 70,210,100,55,300,130,85,240,65,160];
const scOnlyBeige = [55,120,42,180,70,38,95,150,48,220, 62,110,40,85,260,52,140,44,75,190, 38,120,58,300,90,46,160,68,40,230, 105,50,170,80,42,130,270,60,36,95, 210,48,140,72,320,55,110,40,180,85, 46,240,65,125,50,190,42,100,280,58, 150,75,48,220,90,55,170,110,62,260, 85,48,140,70,200,60,110,85,160,55];

// ---------- smooth fits
const smoothX = [0,.07,.15,.25,.42,.63,.91,1.48,2.3,4,6.5,10,20,30];
const smoothEnds = [37,40,40,36];
const fitB = {
  mid: [[-2,-5,-8,-11,-14,-17,-19,-24,-28,-35,-41,-46,-52,-56,-59],[-3,-6,-8,-10,-12,-13.5,-14.5,-15,-14,-12.5,-11,-10,-8.5,-7.5,-6],[6,7,8,9,11,13,15,18,20,23,28,32,38,42,46],[5,7,9,11,14,16,18,21,24,28,33,36,40,41.5,42]],
  lo: [[-4,-7,-9.5,-12.5,-15.5,-18.5,-20.5,-25.5,-29.5,-36.5,-43,-48,-54,-58.5,-62],[-5,-8,-10,-12,-13.5,-15,-16,-16.5,-15.5,-14.5,-14,-13,-11,-11.5,-12],[4.5,5.5,7,8,10,12,14,17,19,22,26.5,30,35,38,41],[3,5,7.5,9.5,12.5,15,17,20,23,27,32,35,38,38,37]],
  hi: [[0,-3,-6.5,-9.5,-12.5,-15.5,-17.5,-22.5,-26.5,-33.5,-39,-44,-50,-53.5,-56],[-1,-4,-6,-8,-10.5,-12,-13,-13.5,-12.5,-10.5,-8,-7,-6,-3.5,0],[7.5,8.5,9,10,12,14,16,19,21,24,29.5,34,41,46,51],[7,9,10.5,12.5,15.5,17,19,22,25,29,34,37,42,45,47]],
};
const fitC = {
  mid: [[-42,-37,-31,-25,-15,-7,1,10,18,28,38,50,72,90,102],[-62,-54,-46,-35,-20,-8,1,13,22,33,50,67,105,132,152],[-78,-68,-58,-46,-25,-8,3,17,28,43,60,80,125,148,160],[-78,-68,-58,-47,-28,-12,0,15,28,48,72,92,126,140,149]],
  lo: [[-45,-40,-33,-27,-17,-9,-1,8,16,26,36,47,68,85,96],[-66,-57,-48,-37,-22,-10,-1,11,20,31,48,65,102,127,145],[-82,-72,-61,-49,-28,-10,1,15,26,41,58,77,121,142,153],[-82,-72,-61,-50,-30,-14,-2,13,26,46,70,89,121,132,140]],
  hi: [[-39,-34,-29,-23,-13,-5,3,12,20,30,40,53,76,95,108],[-58,-51,-44,-33,-18,-6,3,15,24,35,52,69,108,137,159],[-74,-64,-55,-43,-22,-6,5,19,30,45,62,83,129,154,167],[-74,-64,-55,-44,-26,-10,2,17,30,50,74,95,131,148,158]],
};
const fitD = {
  mid: [[80,77,75,75,78,82,92,100,108,112,118,130,163,185,207],[46,50,60,67,80,97,115,134,157,204,240,272,300,340,375],[45,62,85,115,190,240,285,320,330,345,380,420,455,465,475],[17,37,66,100,180,220,255,280,305,340,400,470,560,560,560]],
  lo: [[65,65,68,69,73,77,85,92,99,102,106,115,140,155,180],[41,46,55,62,75,92,110,125,145,185,215,240,260,295,320],[38,55,77,105,175,225,270,300,310,320,345,370,390,395,400],[15,33,60,93,170,210,245,265,290,320,365,415,420,360,320]],
  hi: [[105,92,83,81,83,88,98,108,117,123,131,147,190,220,240],[52,55,65,72,85,102,120,145,170,225,270,305,345,390,440],[52,70,94,125,205,255,300,340,350,370,415,470,530,545,560],[20,42,72,108,190,230,265,295,320,360,445,535,740,860,975]],
};

// ---------- axis ticks
const pctMajor = [0,10,20,30,40];
const shapBTicks = [100,50,0,-50,-100];
const shapBMinor = [75,25,-25,-75];
const shapCTicks = [200,100,0,-100];
const shapCMinor = [150,50,-50];
const scTicks = [10,100,1000];
const scMinor = [31.62,316.2];
const lonTicks = [-80,-79,-78,-77,-76,-75];
const latTicks = [37,38,39,40,41,42,43];

const imperviousAll = [imperviousBeige, imperviousOrange, imperviousRed, imperviousPurple];
const pairs = (f: number[]) => { const o: any[] = []; for (let i = 0; i + 1 < f.length; i += 2) o.push({ x: f[i], y: f[i + 1] }); return o; };
const rows = (r: [number, number[]][]) => r.flatMap(([lat, lons]) => lons.map((x) => ({ x, y: lat })));

const GRID_MAJOR = "#ebebeb";
const GRID_MINOR = "#f2f2f2";
const TICK_COL = "#606060";
const TITLE_SIZE = 19.3;

function frameAndLetter(letter: string, lx: number, ly: number, frame: string, lw: number) {
  return {
    id: "frame" + letter,
    afterDraw(chart: any) {
      const { ctx, chartArea: a } = chart;
      ctx.save();
      ctx.strokeStyle = frame;
      ctx.lineWidth = lw;
      ctx.strokeRect(a.left, a.top, a.right - a.left, a.bottom - a.top);
      ctx.fillStyle = "#000";
      ctx.font = "bold 34px " + FONT;
      ctx.textBaseline = "alphabetic";
      ctx.fillText(letter, lx, ly);
      ctx.restore();
    },
  };
}

function scaleBase(title: string | null, major: number[], minor: number[], fmt: (v: number) => string, size: number, titlePad: any, tickPad = 3) {
  return {
    grid: {
      color: (c: any) => (c.tick && c.tick.isMinor ? GRID_MINOR : GRID_MAJOR),
      lineWidth: (c: any) => (c.tick && c.tick.isMinor ? 0.8 : 1.4),
      tickColor: (c: any) => (c.tick && c.tick.isMinor ? "rgba(0,0,0,0)" : "#333333"),
      tickLength: 4,
      tickWidth: 1,
    },
    border: { display: false },
    ticks: {
      autoSkip: false,
      maxRotation: 0,
      minRotation: 0,
      padding: tickPad,
      color: TICK_COL,
      font: { family: FONT, size },
      callback: (v: any, i: number, all: any[]) => (all[i] && all[i].isMinor ? "" : fmt(Number(v))),
    },
    afterBuildTicks: (s: any) => {
      s.ticks = [...major.map((value) => ({ value })), ...minor.map((value) => ({ value, isMinor: true }))].sort((p, q) => p.value - q.value);
    },
    title: title ? { display: true, text: title, color: "#000", font: { family: FONT, size: TITLE_SIZE }, padding: titlePad } : { display: false },
  };
}

const noPad = (s: any) => { s.paddingLeft = 0; s.paddingRight = 0; s.paddingTop = 0; s.paddingBottom = 0; };

function pctScale(min: number, max: number, height: number, pad: number, tickPad: number) {
  const major = pctMajor.map((v) => Math.log1p(v));
  const minor = [0, 1, 2, 3].map((i) => (major[i] + major[i + 1]) / 2);
  return {
    type: "linear", min, max,
    ...scaleBase("Impervious cover, %", major, minor, (v) => String(Math.round(Math.expm1(v))), 14, { top: 0, bottom: pad }, tickPad),
    afterFit: (s: any) => { s.height = height; noPad(s); },
  };
}

const withOrder = (sets: any[]) => sets.map((s, i) => ({ ...s, order: sets.length - i }));

function scatterSets(yArrays: number[][], crowded: number[][], fit: any, r: number, order: number[], scOnly?: number[][]) {
  const sets: any[] = [];
  const style = (c: number) => ({ type: "scatter", label: classNames[c], backgroundColor: fillColors[c], borderColor: "#111", borderWidth: 1.2, pointRadius: r, showLine: false });
  if (scOnly) {
    order.forEach((c) => {
      const ys = scOnly[c];
      sets.push({ ...style(c), data: imperviousScOnly.slice(0, ys.length).map((v, i) => ({ x: Math.log1p(v), y: ys[i] })) });
    });
  }
  order.forEach((c) => {
    const ys = crowded[c];
    sets.push({ ...style(c), data: imperviousCrowded.slice(0, ys.length).map((v, i) => ({ x: Math.log1p(v), y: ys[i] })) });
  });
  order.forEach((c) => {
    const xs = imperviousAll[c], ys = yArrays[c];
    const n = Math.min(xs.length, ys.length);
    sets.push({ ...style(c), data: xs.slice(0, n).map((v, i) => ({ x: Math.log1p(v), y: ys[i] })) });
  });
  [0, 1, 2, 3].forEach((c) => {
    const grid = [...smoothX, smoothEnds[c]].map(Math.log1p);
    const line = (a: number[]) => a.map((y, i) => ({ x: grid[i], y }));
    sets.push({ type: "line", label: "lo", data: line(fit.lo[c]), pointRadius: 0, borderWidth: 0, borderColor: "transparent", tension: 0.3, fill: false });
    sets.push({ type: "line", label: "hi", data: line(fit.hi[c]), pointRadius: 0, borderWidth: 0, borderColor: "transparent", tension: 0.3, fill: "-1", backgroundColor: lineColors[c] + "66" });
    sets.push({ type: "line", label: "fit", data: line(fit.mid[c]), pointRadius: 0, borderWidth: 1.8, borderColor: lineColors[c], tension: 0.3, fill: false });
  });
  return withOrder(sets);
}

const baseOptions = (top: number, right: number, scales: any) => ({
  responsive: false,
  animation: false,
  events: [],
  layout: { autoPadding: false, padding: { top, right, left: 0, bottom: 0 } },
  plugins: { legend: { display: false }, tooltip: { enabled: false } },
  scales,
});

function mapDatasets() {
  const sets: any[] = [];
  grayLines.forEach((l) => sets.push({ type: "scatter", label: "state", data: pairs(l), showLine: true, pointRadius: 0, borderColor: "#8e8e8e", borderWidth: 1.9, tension: 0 }));
  sets.push({ type: "scatter", label: "watershed", data: pairs(watershed), showLine: true, pointRadius: 0, borderColor: "#000", borderWidth: 2.2, tension: 0 });
  const pt = (label: string, data: any[], c: number) => ({ type: "scatter", label, data, showLine: false, pointRadius: 4.4, borderWidth: 1.2, borderColor: "#111", backgroundColor: fillColors[c] });
  sets.push(pt(classNames[0], rows(mapBeigeRows), 0));
  sets.push(pt(classNames[1], rows(mapOrangeRows), 1));
  sets.push(pt(classNames[3], pairs(mapPurpleLow), 3));
  sets.push(pt(classNames[2], [...rows(mapRedRows), ...pairs(mapRedScattered)], 2));
  sets.push(pt(classNames[3], pairs(mapPurple), 3));
  return withOrder(sets);
}

const legendRows = [82.7, 113, 143.7, 173.7];

export default function App() {
  const a = useRef<HTMLCanvasElement>(null);
  const b = useRef<HTMLCanvasElement>(null);
  const c = useRef<HTMLCanvasElement>(null);
  const d = useRef<HTMLCanvasElement>(null);
  useEffect(() => {
    const charts: Chart[] = [];
    const mapY = {
      type: "linear", min: 36.503, max: 43.088,
      ...scaleBase(null, latTicks, [], (v) => `${v}°N`, 15, {}),
      grid: { display: true, drawOnChartArea: false, tickLength: 4, tickColor: "#555", tickWidth: 1 },
      afterFit: (s: any) => { s.width = 80; noPad(s); },
    };
    const mapX = {
      type: "linear", min: -80.666, max: -74.535,
      ...scaleBase(null, lonTicks, [], (v) => `${Math.abs(v)}°W`, 15, {}),
      grid: { display: true, drawOnChartArea: false, tickLength: 4, tickColor: "#555", tickWidth: 1 },
      afterFit: (s: any) => { s.height = 38; noPad(s); },
    };
    charts.push(new Chart(a.current!, {
      type: "scatter",
      data: { datasets: mapDatasets() },
      options: baseOptions(21, 10, { x: mapX, y: mapY }),
      plugins: [frameAndLetter("a", 518, 677, "#8a8a8a", 1.6)],
    } as any));

    const yB = { type: "linear", min: -109, max: 109.7,
      ...scaleBase("Snow Depth SHAP value", shapBTicks, shapBMinor, (v) => String(v), 14, { top: 3, bottom: 0 }),
      afterFit: (s: any) => { s.width = 69; noPad(s); } };
    charts.push(new Chart(b.current!, {
      type: "scatter",
      data: { datasets: scatterSets([snowShapBeige, snowShapOrange, snowShapRed, snowShapPurple], [snowCrowdedBeige, snowCrowdedOrange, snowCrowdedRed, snowCrowdedPurple], fitB, 4.2, [0, 1, 3, 2]) },
      options: baseOptions(11, 0, { x: pctScale(-0.183, 3.88, 52, 5, 5), y: yB }),
      plugins: [frameAndLetter("b", 79, 55, "#555555", 1.2)],
    } as any));

    const yC = { type: "linear", min: -113.5, max: 213.5,
      ...scaleBase("Impervious cover SHAP value", shapCTicks, shapCMinor, (v) => String(v), 14, { top: 3, bottom: 0 }),
      afterFit: (s: any) => { s.width = 69; noPad(s); } };
    charts.push(new Chart(c.current!, {
      type: "scatter",
      data: { datasets: scatterSets([imperviousShapBeige, imperviousShapOrange, imperviousShapRed, imperviousShapPurple], [impCrowdedBeige, impCrowdedOrange, impCrowdedRed, impCrowdedPurple], fitC, 4.2, [0, 1, 2, 3]) },
      options: baseOptions(12, 0, { x: pctScale(-0.183, 3.88, 52, 5, 5), y: yC }),
      plugins: [frameAndLetter("c", 79, 56, "#777777", 1.2)],
    } as any));

    const yD = { type: "logarithmic", min: 6.28, max: 2790,
      ...scaleBase("Observed median SC, µS/cm", scTicks, scMinor, (v) => String(v), 14, { top: 11, bottom: 0 }),
      afterFit: (s: any) => { s.width = 80; noPad(s); } };
    charts.push(new Chart(d.current!, {
      type: "scatter",
      data: { datasets: scatterSets([observedScBeige, observedScOrange, observedScRed, observedScPurple], [scCrowdedBeige, scCrowdedOrange, scCrowdedRed, scCrowdedPurple], fitD, 3.8, [0, 1, 2, 3], [scOnlyBeige, scOnlyOrange, scOnlyRed, scOnlyPurple]) },
      options: baseOptions(7, 0, { x: pctScale(-0.181, 3.887, 45, 0, 4), y: yD }),
      plugins: [frameAndLetter("d", 91, 45, "#555555", 1.2)],
    } as any));
    return () => charts.forEach((ch) => ch.destroy());
  }, []);

  const abs = (left: number, top: number): React.CSSProperties => ({ position: "absolute", left, top });
  return (
    <div style={{ position: "absolute", left: 0, top: 0, width: 1127, height: 1132, background: "#fff", overflow: "hidden", fontFamily: FONT }}>
      <canvas ref={a} width={575} height={735} style={abs(0, 0)} />
      <canvas ref={b} width={557} height={378} style={abs(578, 0)} />
      <canvas ref={c} width={557} height={378} style={abs(578, 380)} />
      <canvas ref={d} width={1135} height={367} style={abs(0, 765)} />
      <div style={{ ...abs(93, 31), width: 146, height: 166, border: "1.5px solid #111", background: "#fff" }} />
      <div style={{ ...abs(103, 40), fontSize: 17.6, lineHeight: "20px", color: "#111", whiteSpace: "nowrap" }}>Snow depth, mm</div>
      {classNames.map((n, i) => (
        <React.Fragment key={n}>
          <span style={{ ...abs(113, legendRows[i] - 5.5), width: 9, height: 9, borderRadius: "50%", border: "1.2px solid #111", background: fillColors[i] }} />
          <div style={{ ...abs(142, legendRows[i] - 10), fontSize: 15.5, lineHeight: "20px", color: "#222" }}>{n}</div>
        </React.Fragment>
      ))}
    </div>
  );
}
